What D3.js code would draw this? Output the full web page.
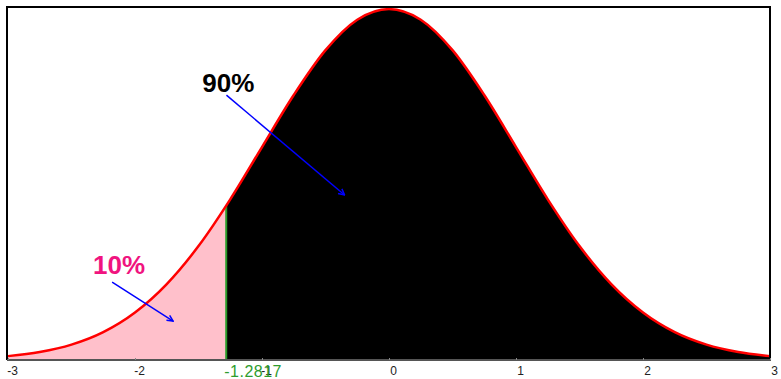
<!DOCTYPE html>
<html>
<head>
<meta charset="utf-8">
<script src="https://cdn.jsdelivr.net/npm/d3@7"></script>
<style>
  body { margin: 0; background: #fff; }
  svg { display: block; font-family: Arial, "Liberation Sans", sans-serif; }
</style>
</head>
<body>
<div id="chart"></div>
<script>
// z values and the density
const zValues = [-3, -2.75, -2.5, -2.25, -2, -1.75, -1.5, -1.25, -1, -0.75, -0.5, -0.25, 0,
                 0.25, 0.5, 0.75, 1, 1.25, 1.5, 1.75, 2, 2.25, 2.5, 2.75, 3];
const density = [0.0044, 0.0091, 0.0175, 0.0317, 0.0540, 0.0863, 0.1295, 0.1826, 0.2420, 0.3011, 0.3521, 0.3867, 0.3989,
                 0.3867, 0.3521, 0.3011, 0.2420, 0.1826, 0.1295, 0.0863, 0.0540, 0.0317, 0.0175, 0.0091, 0.0044];
const xTicks = [-3, -2, -1, 0, 1, 2, 3];
const tickLabels = ["-3", "-2", "-1", "0", "1", "2", "3"];
const cutoff = -1.2817;
const cutoffDensity = 0.1755;
const cutoffLabel = "-1.2817";

// annotations: text position and arrow ends, in data units
const labels = [
  { text: "90%", color: "#000", x: -1.47, y: 0.3046, ax: -1.28, ay: 0.301, bx: -0.35, by: 0.1875 },
  { text: "10%", color: "#f0147f", x: -2.33, y: 0.0977, ax: -2.18, ay: 0.0886, bx: -1.70, by: 0.0443 }
];

const width = 781, height = 379;
const frame = { left: 7, top: 7, right: 770, bottom: 360 };

const svg = d3.select("#chart").append("svg")
  .attr("width", width)
  .attr("height", height);

const x = d3.scaleLinear().domain([-3, 3]).range([8, 770]);
const y = d3.scaleLinear().domain([0, 0.3989]).range([frame.bottom, 9]);

const pts = zValues.map((z, i) => ({ z, d: density[i] }));

const area = d3.area()
  .x(d => x(d.z))
  .y0(y(0))
  .y1(d => y(d.d))
  .curve(d3.curveMonotoneX);

const line = d3.line()
  .x(d => x(d.z))
  .y(d => y(d.d))
  .curve(d3.curveMonotoneX);

const defs = svg.append("defs");
defs.append("clipPath").attr("id", "left")
  .append("rect")
  .attr("x", 0).attr("y", 0)
  .attr("width", x(cutoff)).attr("height", height);
defs.append("clipPath").attr("id", "right")
  .append("rect")
  .attr("x", x(cutoff)).attr("y", 0)
  .attr("width", width - x(cutoff)).attr("height", height);
defs.append("marker")
  .attr("id", "head")
  .attr("viewBox", "0 0 10 10")
  .attr("refX", 9).attr("refY", 5)
  .attr("markerWidth", 5).attr("markerHeight", 5)
  .attr("orient", "auto")
  .append("path")
  .attr("d", "M1,1 L9,5 L1,9")
  .attr("fill", "none")
  .attr("stroke", "#0000ff")
  .attr("stroke-width", 2);

// shaded areas
svg.append("path").datum(pts)
  .attr("d", area)
  .attr("fill", "#ffc0cb")
  .attr("clip-path", "url(#left)");
svg.append("path").datum(pts)
  .attr("d", area)
  .attr("fill", "#000")
  .attr("clip-path", "url(#right)");

// cutoff line
svg.append("line")
  .attr("x1", x(cutoff)).attr("x2", x(cutoff))
  .attr("y1", y(0)).attr("y2", y(cutoffDensity))
  .attr("stroke", "#2a9a2a")
  .attr("stroke-width", 2);

// curve
svg.append("path").datum(pts)
  .attr("d", line)
  .attr("fill", "none")
  .attr("stroke", "#ff0000")
  .attr("stroke-width", 2.5);

// frame
svg.append("path")
  .attr("d", `M${frame.left},${frame.bottom}V${frame.top}H${frame.right}V${frame.bottom}`)
  .attr("fill", "none")
  .attr("stroke", "#000")
  .attr("stroke-width", 2);

// axis
const axis = svg.append("g")
  .attr("transform", `translate(0,${frame.bottom})`)
  .call(d3.axisBottom(x).tickValues(xTicks).tickSize(-2).tickPadding(6)
    .tickFormat((d, i) => tickLabels[i]));
axis.select(".domain")
  .attr("d", `M${frame.left},0H${frame.right + 1}`)
  .attr("stroke", "#555")
  .attr("stroke-width", 2);
axis.selectAll(".tick line").attr("stroke", "#888");
axis.selectAll(".tick text")
  .attr("dx", 4)
  .attr("fill", "#222")
  .style("font-size", "12px")
  .style("font-family", "Arial, 'Liberation Sans', sans-serif");

// cutoff label
svg.append("text")
  .attr("x", x(cutoff) - 2)
  .attr("y", 377)
  .attr("fill", "#2e9c2e")
  .style("font-size", "16px")
  .style("letter-spacing", "0.5px")
  .text(cutoffLabel);

// percent labels with arrows
labels.forEach(l => {
  svg.append("text")
    .attr("x", x(l.x)).attr("y", y(l.y))
    .attr("fill", l.color)
    .style("font-size", "26px")
    .style("font-weight", "bold")
    .text(l.text);
  svg.append("line")
    .attr("x1", x(l.ax)).attr("y1", y(l.ay))
    .attr("x2", x(l.bx)).attr("y2", y(l.by))
    .attr("stroke", "#0000ff")
    .attr("stroke-width", 1.5)
    .attr("marker-end", "url(#head)");
});
</script>
</body>
</html>
